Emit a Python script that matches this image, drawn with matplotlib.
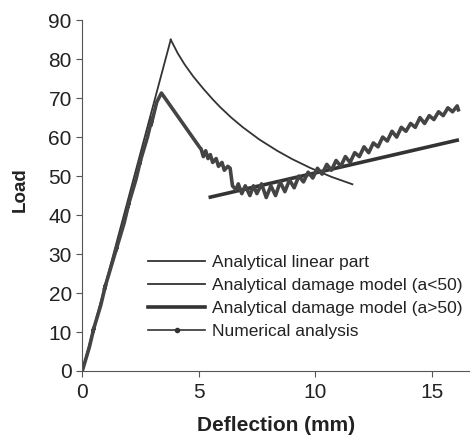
import matplotlib
matplotlib.use('Agg')
import matplotlib.pyplot as plt

plt.rcParams['font.family'] = ['Liberation Sans', 'DejaVu Sans']

# analytical linear part
lin_x = [0, 3.8]
lin_y = [0, 85]

# analytical damage model (a<50)
dmg1_x = [3.8, 4.1, 4.4, 4.76, 5.2, 5.6, 5.92, 6.4, 6.9, 7.6, 8.37, 9.0, 9.79, 10.7, 11.6]
dmg1_y = [85, 81.5, 78.6, 75.6, 72.4, 69.7, 67.7, 65.0, 62.5, 59.4, 56.5, 54.4, 52.1, 49.8, 47.9]

# analytical damage model (a>50)
dmg2_x = [5.5, 10.0, 16.1]
dmg2_y = [44.6, 50.8, 59.2]

# numerical analysis
num_x = [0, 0.3, 0.5, 0.45, 0.8, 1.0, 0.95, 1.3, 1.5, 1.45, 1.8, 2.0, 1.95, 2.3, 2.5, 2.45,
         2.8, 3.0, 2.95, 3.2, 3.4, 5.05, 5.1, 5.2, 5.3, 5.4, 5.5, 5.6, 5.75,
         5.85, 6.0, 6.1, 6.25, 6.35, 6.45, 6.6, 6.7, 6.85, 7.0, 7.2, 7.35, 7.5, 7.7, 7.9, 8.1,
         8.3, 8.5, 8.7, 8.9, 9.1, 9.3, 9.5, 9.7, 9.9, 10.1, 10.3, 10.5, 10.7, 10.9, 11.1,
         11.3, 11.5, 11.7, 11.9, 12.1, 12.3, 12.5, 12.7, 12.9, 13.1, 13.3, 13.5, 13.7, 13.9,
         14.1, 14.3, 14.5, 14.7, 14.9, 15.1, 15.3, 15.5, 15.7, 15.9, 16.1, 16.15]
num_y = [0, 6, 11, 10, 17, 22, 21, 28, 32, 31, 38, 43, 42, 49, 54, 53,
         60, 65, 63, 69, 71.3, 57.3, 57.0, 55, 56.5, 54.5, 55.5, 53.5, 54.5,
         52.5, 53.5, 51.5, 52.5, 52.0, 47.5, 46.5, 48, 45.5, 47.5, 45, 47.5, 45.5, 48, 44.5, 47.5,
         45, 48.5, 46, 49, 47, 50, 48.5, 51, 49.5, 52, 50.5, 53, 51.5, 54, 52.5,
         55, 53.5, 56, 55, 57.5, 56, 58.5, 57.5, 60, 59, 61.5, 60, 62.5, 61.5,
         63.5, 62.5, 65, 63.5, 65.5, 64.5, 66.5, 65.5, 67.5, 66.5, 68, 67]

fig = plt.figure(figsize=(4.7, 4.38), dpi=100)
ax = fig.add_axes([0.175, 0.153, 0.825, 0.801])

c = '#333333'
ax.plot(lin_x, lin_y, color=c, lw=1.3, label='Analytical linear part')
ax.plot(dmg1_x, dmg1_y, color=c, lw=1.3, label='Analytical damage model (a<50)')
ax.plot(dmg2_x, dmg2_y, color=c, lw=2.6, label='Analytical damage model (a>50)')
ax.plot(num_x, num_y, color='#444444', lw=2.6, solid_joinstyle='round')
ax.plot([], [], color=c, lw=1.2, marker='o', ms=3, label='Numerical analysis')

ax.set_xlim(0, 16.65)
ax.set_ylim(0, 90)
ax.set_xticks([0, 5, 10, 15])
ax.set_yticks(range(0, 91, 10))
ax.spines['top'].set_visible(False)
ax.spines['right'].set_visible(False)
for s in ['left', 'bottom']:
    ax.spines[s].set_color('#555555')
ax.tick_params(direction='out', length=4, color='#555555', labelsize=15, labelcolor='#222222')
ax.tick_params(axis='x', pad=5)
ax.set_xlabel('Deflection (mm)', fontsize=15, fontweight='bold', color='#222222', labelpad=10)
ax.set_ylabel('Load', fontsize=13.5, fontweight='bold', color='#222222')
ax.yaxis.set_label_coords(-0.137, 0.516)

leg = ax.legend(loc='upper left', bbox_to_anchor=(0.17, 0.33), frameon=False, fontsize=12.5,
                borderpad=0, borderaxespad=0,
                handlelength=3.3, handletextpad=0.4, labelspacing=0.45, labelcolor='#222222')

fig.savefig('out.png', dpi=100)
